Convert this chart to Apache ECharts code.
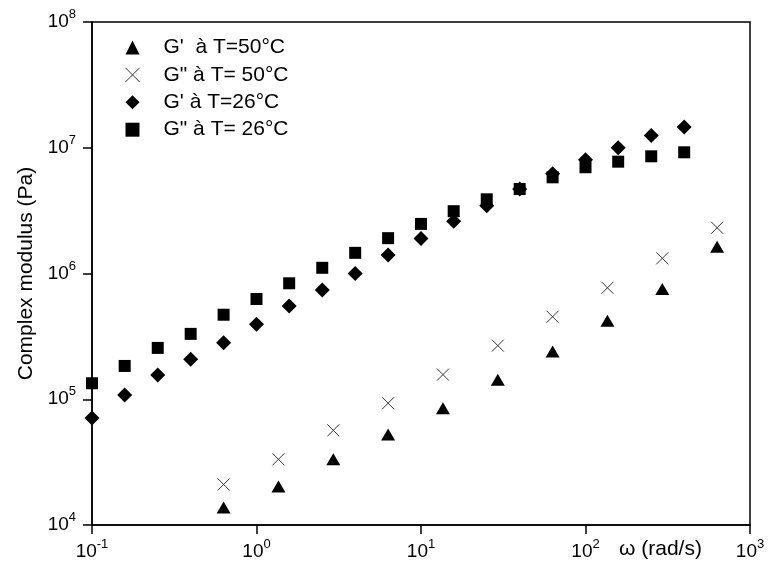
<!DOCTYPE html>
<html>
<head>
<meta charset="utf-8">
<script src="https://cdn.jsdelivr.net/npm/echarts@6/dist/echarts.min.js"></script>
<style>html,body{margin:0;padding:0;background:#fff}#c{width:768px;height:568px}</style>
</head>
<body>
<div id="c"></div>
<script>
// ω (rad/s) and moduli (Pa)
var omega26 = [0.1, 0.158, 0.251, 0.398, 0.631, 1, 1.58, 2.51, 3.98, 6.31, 10, 15.8, 25.1, 39.8, 63.1, 100, 158, 251, 398];
var gPrime26 = [7.1e4, 1.08e5, 1.56e5, 2.08e5, 2.82e5, 3.95e5, 5.52e5, 7.4e5, 1.0e6, 1.40e6, 1.90e6, 2.6e6, 3.46e6, 4.7e6, 6.22e6, 8.04e6, 1.0e7, 1.25e7, 1.46e7];
var gSecond26 = [1.34e5, 1.84e5, 2.56e5, 3.31e5, 4.7e5, 6.27e5, 8.36e5, 1.11e6, 1.46e6, 1.91e6, 2.48e6, 3.13e6, 3.89e6, 4.7e6, 5.82e6, 7.0e6, 7.75e6, 8.55e6, 9.2e6];
var omega50 = [0.631, 1.36, 2.93, 6.31, 13.6, 29.3, 63.1, 136, 293, 631];
var gPrime50 = [1.38e4, 2.02e4, 3.34e4, 5.24e4, 8.47e4, 1.43e5, 2.4e5, 4.21e5, 7.53e5, 1.63e6];
var gSecond50 = [2.1e4, 3.33e4, 5.66e4, 9.3e4, 1.57e5, 2.67e5, 4.53e5, 7.7e5, 1.32e6, 2.31e6];
var seriesNames = ["G'  à T=50°C", 'G" à T= 50°C', "G' à T=26°C", 'G" à T= 26°C'];

function pairs(xs, ys) { return xs.map(function (x, i) { return [x, ys[i]]; }); }
var FONT = 'Liberation Sans, Arial, sans-serif';
function makeRich() {
  return {
    b: { fontSize: 19, lineHeight: 28, color: '#000', fontFamily: FONT },
    s: { fontSize: 13, lineHeight: 12, verticalAlign: 'top', color: '#000', fontFamily: FONT }
  };
}
function powLabel(v) { return '{b|10}{s|' + Math.round(Math.log10(v)) + '}'; }
var crossPath = 'path://M0,0L10,10M0,10L10,0';

var chart = echarts.init(document.getElementById('c'));
chart.setOption({
  animation: false,
  backgroundColor: '#fff',
  grid: { left: 92, right: 18, top: 22, bottom: 43, show: true, borderColor: '#000', borderWidth: 1.5, outerBoundsMode: 'none' },
  legend: {
    orient: 'vertical', left: 120, top: 32, itemWidth: 14, itemHeight: 14, itemGap: 6.4,
    symbolKeepAspect: true,
    textStyle: { fontSize: 21, color: '#000', fontFamily: FONT, padding: [0, 0, 0, 19] },
    itemStyle: { borderWidth: 1 },
    data: seriesNames
  },
  xAxis: {
    type: 'log', logBase: 10, min: 0.1, max: 1000,
    name: 'ω (rad/s)', nameLocation: 'end', nameGap: -131, nameMoveOverlap: false,
    nameTextStyle: { fontSize: 21, color: '#000', fontFamily: FONT, verticalAlign: 'top', padding: [14, 0, 0, 0] },
    axisLine: { lineStyle: { color: '#000', width: 1.5 } },
    axisTick: { inside: false, length: 9, lineStyle: { color: '#000', width: 1.5 } },
    minorTick: { show: false },
    splitLine: { show: false },
    axisLabel: { margin: 13, fontSize: 19, color: '#000', fontFamily: FONT, formatter: powLabel, rich: makeRich() }
  },
  yAxis: {
    type: 'log', logBase: 10, min: 1e4, max: 1e8,
    name: 'Complex modulus (Pa)', nameLocation: 'middle', nameGap: 54,
    nameTextStyle: { fontSize: 21, color: '#000', fontFamily: FONT },
    axisLine: { lineStyle: { color: '#000', width: 1.5 } },
    axisTick: { inside: false, length: 9, lineStyle: { color: '#000', width: 1.5 } },
    minorTick: { show: false },
    splitLine: { show: false },
    axisLabel: { margin: 16, fontSize: 19, color: '#000', fontFamily: FONT, formatter: powLabel, rich: makeRich() }
  },
  series: [
    { name: seriesNames[0], type: 'scatter', symbol: 'triangle', symbolSize: [14, 12],
      itemStyle: { color: '#000', opacity: 1 }, data: pairs(omega50, gPrime50) },
    { name: seriesNames[1], type: 'scatter', symbol: crossPath, symbolSize: 12,
      itemStyle: { color: 'rgba(0,0,0,0)', borderColor: '#333', borderWidth: 1, opacity: 1 }, data: pairs(omega50, gSecond50) },
    { name: seriesNames[2], type: 'scatter', symbol: 'diamond', symbolSize: 15,
      itemStyle: { color: '#000', opacity: 1 }, data: pairs(omega26, gPrime26) },
    { name: seriesNames[3], type: 'scatter', symbol: 'rect', symbolSize: 12,
      itemStyle: { color: '#000', opacity: 1 }, data: pairs(omega26, gSecond26) }
  ]
});
</script>
</body>
</html>
